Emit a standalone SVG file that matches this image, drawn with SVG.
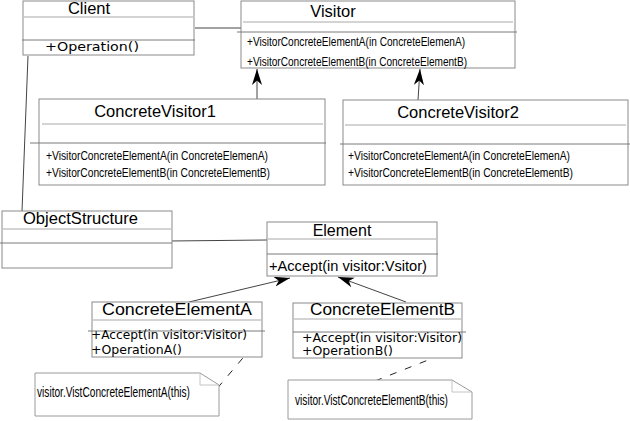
<svg xmlns="http://www.w3.org/2000/svg" width="630" height="421" viewBox="0 0 630 421">
<style>
.box{fill:#fff;stroke:#8a8a8a;stroke-width:1}
.tl{stroke:#a8a8a8;stroke-width:1}
.sep{stroke:#7a7a7a;stroke-width:1}
.conn{stroke:#444;stroke-width:1;fill:none}
.dash{stroke:#222;stroke-width:1;fill:none;stroke-dasharray:7 9}
.note{fill:#fff;stroke:#9a9a9a;stroke-width:1}
.fold{fill:none;stroke:#c4c4c4;stroke-width:1}
.t{font-family:"Liberation Sans",Arial,sans-serif;fill:#000}
.title{font-size:16.5px}
.m{font-size:12.5px}
.d{font-family:"DejaVu Sans",Verdana,sans-serif;fill:#000;font-size:12px}
</style>
<defs>
<marker id="arr" markerUnits="userSpaceOnUse" markerWidth="18" markerHeight="11" refX="16" refY="5" orient="auto">
<path d="M0,0 L16,5 L0,10 L4.5,5 Z" fill="#000"/>
</marker>
</defs>
<g id="connectors">
<line class="conn" x1="195" y1="28" x2="243" y2="28"/>
<line class="conn" x1="28" y1="56" x2="22" y2="211"/>
<line class="conn" x1="170" y1="241" x2="267" y2="240"/>
<line class="conn" x1="257" y1="99" x2="257" y2="69" marker-end="url(#arr)"/>
<line class="conn" x1="418" y1="100" x2="420" y2="69" marker-end="url(#arr)"/>
<line class="conn" x1="189" y1="302" x2="290" y2="278" marker-end="url(#arr)"/>
<line class="conn" x1="406" y1="302" x2="338" y2="277" marker-end="url(#arr)"/>
<line class="dash" x1="253" y1="346" x2="204" y2="404"/>
<line class="dash" x1="456" y1="349" x2="370" y2="383"/>
</g>
<g id="client">
<rect class="box" x="23" y="1" width="171" height="54"/>
<line class="tl" x1="24" y1="17" x2="193" y2="17"/>
<line class="sep" x1="22" y1="40" x2="195" y2="40"/>
<text class="t title" x="89" y="14" text-anchor="middle">Client</text>
<text class="d" x="45" y="51" font-size="10.5" textLength="94" lengthAdjust="spacingAndGlyphs">+Operation()</text>
</g>
<g id="visitor">
<rect class="box" x="241" y="1" width="274" height="67"/>
<line class="tl" x1="243" y1="22" x2="513" y2="22"/>
<line class="sep" x1="237" y1="32" x2="517" y2="32"/>
<text class="t title" x="333" y="17" text-anchor="middle">Visitor</text>
<text class="t m" x="247" y="46" textLength="218" lengthAdjust="spacingAndGlyphs">+VisitorConcreteElementA(in ConcreteElemenA)</text>
<text class="t m" x="247" y="66" textLength="220" lengthAdjust="spacingAndGlyphs">+VisitorConcreteElementB(in ConcreteElementB)</text>
</g>
<g id="concreteVisitor1">
<rect class="box" x="39" y="99" width="286" height="86"/>
<line class="tl" x1="42" y1="124" x2="323" y2="124"/>
<line class="sep" x1="30" y1="143" x2="326" y2="143"/>
<text class="t title" x="155" y="117" text-anchor="middle">ConcreteVisitor1</text>
<text class="t m" x="46" y="160" textLength="222" lengthAdjust="spacingAndGlyphs">+VisitorConcreteElementA(in ConcreteElemenA)</text>
<text class="t m" x="46" y="177" textLength="224" lengthAdjust="spacingAndGlyphs">+VisitorConcreteElementB(in ConcreteElementB)</text>
</g>
<g id="concreteVisitor2">
<rect class="box" x="343" y="100" width="285" height="85"/>
<line class="tl" x1="345" y1="125" x2="626" y2="125"/>
<line class="sep" x1="340" y1="144" x2="630" y2="144"/>
<text class="t title" x="458" y="118" text-anchor="middle">ConcreteVisitor2</text>
<text class="t m" x="348" y="160" textLength="222" lengthAdjust="spacingAndGlyphs">+VisitorConcreteElementA(in ConcreteElemenA)</text>
<text class="t m" x="348" y="177" textLength="225" lengthAdjust="spacingAndGlyphs">+VisitorConcreteElementB(in ConcreteElementB)</text>
</g>
<g id="objectStructure">
<rect class="box" x="2" y="211" width="170" height="57"/>
<line class="tl" x1="3" y1="229" x2="171" y2="229"/>
<line class="sep" x1="0" y1="243" x2="172" y2="243"/>
<text class="t title" x="23" y="224" textLength="115" lengthAdjust="spacingAndGlyphs">ObjectStructure</text>
</g>
<g id="element">
<rect class="box" x="267" y="222" width="170" height="54"/>
<line class="tl" x1="268" y1="239" x2="436" y2="239"/>
<line class="sep" x1="267" y1="254" x2="438" y2="254"/>
<text class="t" x="342" y="236" font-size="16" text-anchor="middle">Element</text>
<text class="t" x="269" y="271" font-size="15.5" textLength="158" lengthAdjust="spacingAndGlyphs">+Accept(in visitor:Vsitor)</text>
</g>
<g id="concreteElementA">
<rect class="box" x="92" y="302" width="170" height="55"/>
<line class="tl" x1="93" y1="320" x2="261" y2="320"/>
<line class="sep" x1="88" y1="331" x2="265" y2="331"/>
<text class="t title" x="102" y="315" textLength="150" lengthAdjust="spacingAndGlyphs">ConcreteElementA</text>
<text class="d" x="91" y="339" textLength="156" lengthAdjust="spacingAndGlyphs">+Accept(in visitor:Visitor)</text>
<text class="d" x="91" y="354" textLength="91" lengthAdjust="spacingAndGlyphs">+OperationA()</text>
</g>
<g id="concreteElementB">
<rect class="box" x="293" y="303" width="169" height="55"/>
<line class="tl" x1="294" y1="319" x2="461" y2="319"/>
<line class="sep" x1="293" y1="332" x2="466" y2="332"/>
<text class="t title" x="310" y="315" textLength="145" lengthAdjust="spacingAndGlyphs">ConcreteElementB</text>
<text class="d" x="302" y="342" textLength="160" lengthAdjust="spacingAndGlyphs">+Accept(in visitor:Visitor)</text>
<text class="d" x="302" y="355" textLength="91" lengthAdjust="spacingAndGlyphs">+OperationB()</text>
</g>
<g id="noteA">
<path class="note" d="M35,373 L200,373 L219,385 L219,416 L35,416 Z"/>
<path class="fold" d="M200,374 L200,385 L218,385"/>
<text class="t" x="37" y="397" font-size="14.5" textLength="153" lengthAdjust="spacingAndGlyphs">visitor.VistConcreteElementA(this)</text>
</g>
<g id="noteB">
<path class="note" d="M288,380 L452,380 L472,392 L472,419 L288,419 Z"/>
<path class="fold" d="M452,381 L452,392 L471,392"/>
<text class="t" x="295" y="405" font-size="14.5" textLength="153" lengthAdjust="spacingAndGlyphs">visitor.VistConcreteElementB(this)</text>
</g>
</svg>
